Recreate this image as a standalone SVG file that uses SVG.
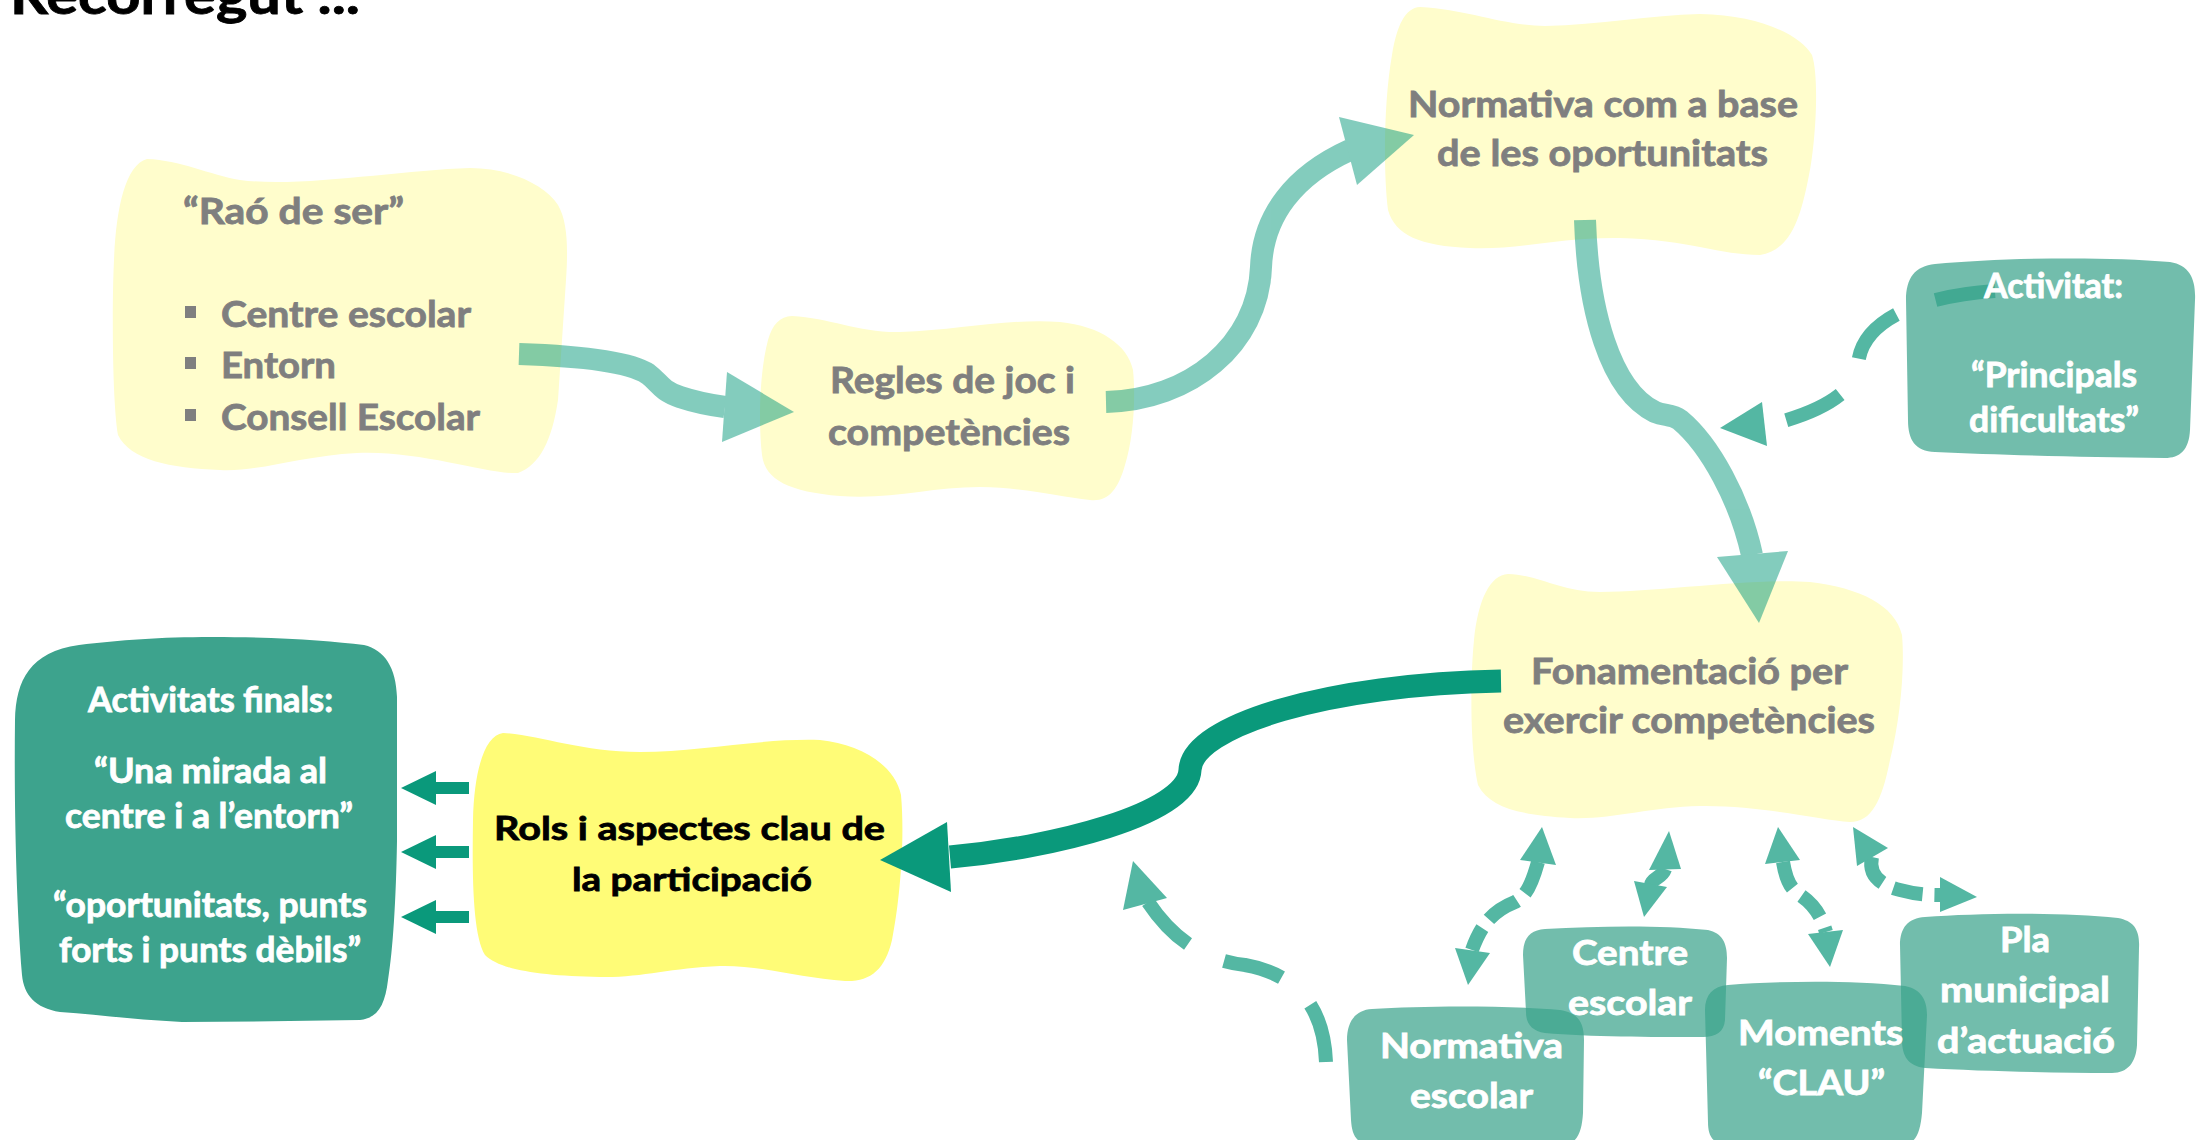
<svg xmlns="http://www.w3.org/2000/svg" width="2203" height="1140" viewBox="0 0 2203 1140">
<style>
text{font-family:Lato,"Liberation Sans",sans-serif;font-weight:700}
.g{fill:#7F7F7F;stroke:#7F7F7F;stroke-width:0.8;font-size:36px}
.w{fill:#FFFFFF;stroke:#FFFFFF;stroke-width:0.8;font-size:35px}
.k{fill:#000000;stroke:#000000;stroke-width:0.8;font-size:33px}
.blob{fill:#FFFDCC}
.rols{fill:#FFFC77}
.tb{fill:#3CA38C;fill-opacity:0.72}
.tbs{fill:#3DA38D}
.bul{fill:#7F7F7F}
.soft{opacity:0.5}
.soft path{fill:none;stroke:#0A9A7D;stroke-width:22}
.soft polygon{fill:#0A9A7D}
.dark path{fill:none;stroke:#0A997B;stroke-width:23}
.dark polygon,.dark rect{fill:#0A997B}
.dash path{fill:none;stroke:#54B7A3;stroke-width:14}
.dash polygon{fill:#54B7A3}
</style>
<rect width="2203" height="1140" fill="#FFFFFF"/>
<text x="10" y="14" font-size="52" fill="#000" stroke="#000" stroke-width="0.8" textLength="350" lengthAdjust="spacingAndGlyphs">Recorregut ...</text>

<g id="node-rao">
<path class="blob" d="M147,159 C180,160 210,175 240,180 C300,188 400,170 470,168 C510,168 545,185 558,205 C568,222 568,250 566,280 L558,400 C552,440 540,465 518,473 C490,475 420,450 357,453 C300,456 260,472 220,470 C170,468 130,460 118,435 C112,400 112,300 114,260 C116,210 125,165 147,159 Z"/>
<text class="g" x="183" y="224" textLength="221" lengthAdjust="spacingAndGlyphs">“Raó de ser”</text>
<rect class="bul" x="185" y="306" width="11" height="12"/>
<rect class="bul" x="185" y="357" width="11" height="12"/>
<rect class="bul" x="185" y="409" width="11" height="12"/>
<text class="g" x="221" y="327" textLength="250" lengthAdjust="spacingAndGlyphs">Centre escolar</text>
<text class="g" x="221" y="378" textLength="115" lengthAdjust="spacingAndGlyphs">Entorn</text>
<text class="g" x="221" y="430" textLength="259" lengthAdjust="spacingAndGlyphs">Consell Escolar</text>
</g>

<g id="node-regles">
<path class="blob" d="M792,316 C830,318 860,333 900,332 C960,330 1010,318 1060,322 C1100,326 1128,345 1133,370 C1136,400 1133,440 1125,465 C1118,490 1108,502 1090,500 C1060,497 1030,488 980,487 C930,487 890,500 840,496 C790,492 765,480 762,455 C758,420 760,370 768,340 C772,325 780,316 792,316 Z"/>
<text class="g" x="830" y="393" textLength="245" lengthAdjust="spacingAndGlyphs">Regles de joc i</text>
<text class="g" x="828" y="445" textLength="242" lengthAdjust="spacingAndGlyphs">competències</text>
</g>

<g id="node-normativa-base">
<path class="blob" d="M1420,7 C1470,10 1500,25 1545,26 C1600,25 1650,15 1700,14 C1760,15 1800,35 1812,55 C1820,80 1815,150 1808,180 C1800,220 1790,250 1760,255 C1720,255 1690,240 1620,238 C1560,237 1520,250 1470,248 C1420,246 1395,235 1388,210 C1383,170 1384,100 1392,55 C1397,25 1405,8 1420,7 Z"/>
<text class="g" x="1408" y="117" textLength="390" lengthAdjust="spacingAndGlyphs">Normativa com a base</text>
<text class="g" x="1437" y="166" textLength="331" lengthAdjust="spacingAndGlyphs">de les oportunitats</text>
</g>

<g id="node-fonamentacio">
<path class="blob" d="M1508,574 C1540,575 1560,592 1600,592 C1660,592 1750,578 1810,582 C1860,588 1895,605 1902,635 C1905,670 1900,720 1890,760 C1882,800 1872,822 1850,822 C1820,820 1760,805 1700,806 C1650,807 1610,820 1570,818 C1520,815 1490,808 1478,785 C1470,750 1470,680 1474,640 C1478,600 1490,575 1508,574 Z"/>
<text class="g" x="1531" y="684" textLength="317" lengthAdjust="spacingAndGlyphs">Fonamentació per</text>
<text class="g" x="1503" y="733" textLength="372" lengthAdjust="spacingAndGlyphs">exercir competències</text>
</g>

<g id="node-rols">
<path class="rols" d="M503,733 C540,735 580,752 640,752 C700,752 760,738 820,740 C860,744 895,765 901,795 C905,840 900,900 892,940 C885,970 870,982 845,981 C800,978 760,965 720,966 C670,968 640,978 600,977 C540,976 500,970 485,955 C473,935 472,880 473,820 C474,770 485,735 503,733 Z"/>
<text class="k" x="494" y="840" textLength="391" lengthAdjust="spacingAndGlyphs">Rols i aspectes clau de</text>
<text class="k" x="572" y="891" textLength="240" lengthAdjust="spacingAndGlyphs">la participació</text>
</g>

<g id="connectors">
<g class="soft">
<path d="M519,354 C580,356 630,362 648,374 C660,383 660,390 680,397 C695,402 710,405 725,407"/>
<polygon points="727,372 794,412 722,442"/>
</g>
<g class="soft">
<path d="M1106,402 C1190,400 1258,345 1261,267 C1263,215 1295,175 1350,150"/>
<polygon points="1339,117 1414,135 1357,185"/>
</g>
<g class="soft">
<path d="M1585,220 C1588,310 1610,390 1655,412 C1665,416 1672,414 1680,420 C1710,445 1740,500 1752,555"/>
<polygon points="1717,557 1788,551 1759,623"/>
</g>
<g class="dark">
<path d="M1501,681 C1330,684 1192,725 1190,770 C1188,815 1050,848 950,857"/>
<polygon points="947,822 880,860 951,892"/>
<rect x="433" y="782" width="36" height="12"/>
<polygon points="401,788 436,771 436,805"/>
<rect x="433" y="846" width="36" height="12"/>
<polygon points="401,852 436,835 436,869"/>
<rect x="433" y="911" width="36" height="12"/>
<polygon points="401,917 436,900 436,934"/>
</g>
<g class="dash">
<path stroke-width="15" stroke-dasharray="60 42" d="M1995,291 C1920,296 1860,320 1858,366 C1856,395 1810,415 1772,424"/>
<polygon points="1762,402 1720,428 1767,446"/>
<path stroke-width="15" stroke-dasharray="60 40" d="M1326,1062 C1324,1010 1300,975 1245,965 C1200,960 1170,935 1148,902"/>
<polygon points="1123,910 1133,861 1167,898"/>
<path stroke-width="12" stroke-dasharray="34 11" d="M1538,862 C1533,880 1528,895 1515,902 C1495,910 1482,922 1472,950"/>
<polygon points="1520,860 1542,827 1556,865"/>
<polygon points="1455,948 1468,985 1490,953"/>
<path stroke-width="12" d="M1665,869 C1662,878 1652,878 1651,885"/>
<polygon points="1649,870 1669,831 1681,869"/>
<polygon points="1634,881 1644,917 1667,887"/>
<path stroke-width="12" stroke-dasharray="28 12" d="M1783,862 C1786,880 1790,888 1800,895 C1815,905 1822,918 1826,932"/>
<polygon points="1765,864 1778,827 1800,860"/>
<polygon points="1808,934 1830,967 1843,930"/>
<path stroke-width="12" stroke-dasharray="30 12" d="M1872,857 C1868,875 1880,885 1900,890 C1915,894 1925,895 1940,895"/>
<polygon points="1857,866 1853,827 1888,848"/>
<polygon points="1940,877 1977,897 1940,912"/>
</g>
</g>

<g id="node-activitat">
<path class="tb" d="M1935,264 C2000,258 2100,256 2170,262 C2190,265 2196,280 2195,300 L2190,430 C2189,450 2180,458 2165,458 C2080,457 2000,455 1935,452 C1915,451 1908,440 1908,420 L1906,300 C1906,278 1915,266 1935,264 Z"/>
<text class="w" font-size="30" x="1984" y="298" textLength="139" lengthAdjust="spacingAndGlyphs">Activitat:</text>
<text class="w" font-size="30" x="1971" y="387" textLength="166" lengthAdjust="spacingAndGlyphs">“Principals</text>
<text class="w" font-size="30" x="1969" y="432" textLength="170" lengthAdjust="spacingAndGlyphs">dificultats”</text>
</g>

<g id="node-activitats-finals">
<path class="tbs" d="M79,645 C120,640 160,637 212,637 C280,637 330,641 364,645 C385,650 396,668 397,697 L397,841 C396,900 393,950 388,980 C385,1005 378,1018 360,1020 C300,1021 240,1022 182,1022 C140,1020 100,1015 60,1012 C35,1008 24,995 22,975 C16,900 14,800 15,720 C16,680 30,652 79,645 Z"/>
<text class="w" font-size="31" x="88" y="712" textLength="245" lengthAdjust="spacingAndGlyphs">Activitats finals:</text>
<text class="w" font-size="31" x="94" y="783" textLength="233" lengthAdjust="spacingAndGlyphs">“Una mirada al</text>
<text class="w" font-size="31" x="65" y="828" textLength="288" lengthAdjust="spacingAndGlyphs">centre i a l’entorn”</text>
<text class="w" font-size="31" x="53" y="917" textLength="314" lengthAdjust="spacingAndGlyphs">“oportunitats, punts</text>
<text class="w" font-size="31" x="59" y="962" textLength="302" lengthAdjust="spacingAndGlyphs">forts i punts dèbils”</text>
</g>

<g id="node-normativa-escolar">
<path class="tb" d="M1372,1009 C1420,1006 1500,1005 1560,1010 C1578,1013 1584,1022 1584,1040 L1583,1113 C1582,1130 1578,1143 1565,1145 L1370,1145 C1356,1143 1352,1135 1351,1120 L1347,1040 C1347,1022 1355,1010 1372,1009 Z"/>
<text class="w" x="1380" y="1058" textLength="183" lengthAdjust="spacingAndGlyphs">Normativa</text>
<text class="w" x="1410" y="1108" textLength="123" lengthAdjust="spacingAndGlyphs">escolar</text>
</g>

<g id="node-centre-escolar">
<path class="tb" d="M1545,929 C1600,926 1660,925 1708,930 C1722,933 1727,943 1727,958 L1725,1020 C1724,1032 1716,1037 1703,1037 C1650,1037 1590,1037 1545,1033 C1532,1031 1526,1024 1526,1012 L1523,955 C1523,938 1530,930 1545,929 Z"/>
<text class="w" x="1572" y="965" textLength="116" lengthAdjust="spacingAndGlyphs">Centre</text>
<text class="w" x="1568" y="1015" textLength="124" lengthAdjust="spacingAndGlyphs">escolar</text>
</g>

<g id="node-pla">
<path class="tb" d="M1925,917 C1980,913 2060,912 2118,918 C2134,921 2140,930 2139,948 L2137,1045 C2136,1062 2128,1073 2112,1073 C2050,1073 1980,1071 1925,1068 C1908,1066 1902,1056 1902,1040 L1900,945 C1900,928 1908,918 1925,917 Z"/>
<text class="w" x="2000" y="952" textLength="50" lengthAdjust="spacingAndGlyphs">Pla</text>
<text class="w" x="1940" y="1002" textLength="170" lengthAdjust="spacingAndGlyphs">municipal</text>
<text class="w" x="1937" y="1053" textLength="178" lengthAdjust="spacingAndGlyphs">d’actuació</text>
</g>

<g id="node-moments">
<path class="tb" d="M1728,985 C1780,981 1850,980 1905,986 C1921,989 1927,1000 1927,1015 L1922,1113 C1920,1135 1915,1145 1900,1145 L1725,1145 C1712,1143 1708,1135 1708,1122 L1705,1010 C1705,995 1713,986 1728,985 Z"/>
<text class="w" x="1738" y="1045" textLength="165" lengthAdjust="spacingAndGlyphs">Moments</text>
<text class="w" x="1758" y="1095" textLength="127" lengthAdjust="spacingAndGlyphs">“CLAU”</text>
</g>
</svg>
